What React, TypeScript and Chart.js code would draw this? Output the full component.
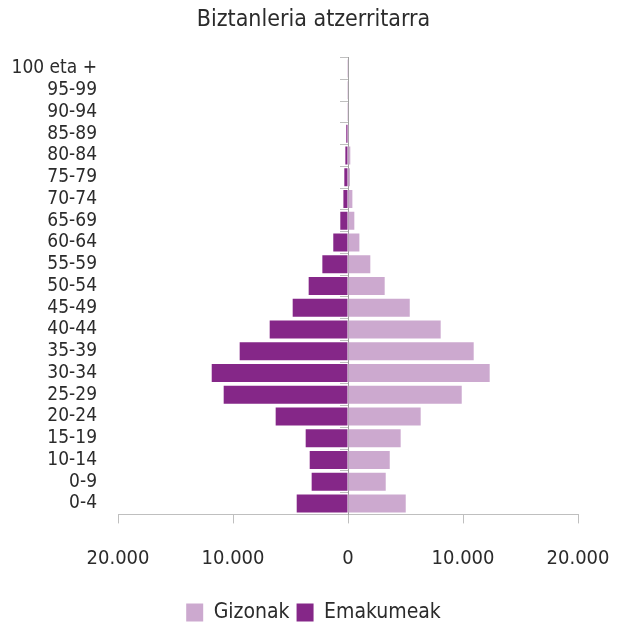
import React, { useEffect, useRef } from "react";
import { Chart, registerables } from "chart.js";

Chart.register(...registerables);

const TITLE = "Biztanleria atzerritarra";
const AGE_GROUPS = [
  "100 eta +", "95-99", "90-94", "85-89", "80-84", "75-79", "70-74", "65-69",
  "60-64", "55-59", "50-54", "45-49", "40-44", "35-39", "30-34", "25-29",
  "20-24", "15-19", "10-14", "0-9", "0-4",
];
const GIZONAK = [40, 40, 40, 20, 200, 170, 380, 550, 990, 1940, 3190, 5370, 8060, 10930, 12320, 9890, 6320, 4580, 3630, 3280, 5020];
const EMAKUMEAK = [30, 30, 30, 150, 230, 320, 400, 670, 1280, 2230, 3420, 4810, 6810, 9420, 11850, 10810, 6290, 3680, 3330, 3160, 4460];
const X_TICKS = [-20000, -10000, 0, 10000, 20000];
const SERIES_NAMES = ["Gizonak", "Emakumeak"];

const FONT = "'DejaVu Sans Condensed', 'Liberation Sans Narrow', 'Roboto', sans-serif";
const TEXT = "#2b2b2b";

const fmt = (v: number) => String(Math.abs(v)).replace(/\B(?=(\d{3})+(?!\d))/g, ".");

export default function App() {
  const ref = useRef<HTMLCanvasElement | null>(null);
  useEffect(() => {
    if (!ref.current) return;
    Chart.defaults.font.family = FONT;
    const chart = new Chart(ref.current, {
      type: "bar",
      data: {
        labels: AGE_GROUPS,
        datasets: [
          {
            label: SERIES_NAMES[0],
            data: GIZONAK,
            backgroundColor: "#cca9cf",
            yAxisID: "y",
            barPercentage: 0.83,
            categoryPercentage: 1,
          },
          {
            label: SERIES_NAMES[1],
            data: EMAKUMEAK.map((v) => -v),
            backgroundColor: "#852788",
            yAxisID: "y",
            barPercentage: 0.83,
            categoryPercentage: 1,
          },
        ],
      },
      options: {
        indexAxis: "y",
        animation: false,
        responsive: true,
        maintainAspectRatio: false,
        layout: { padding: 0 },
        plugins: {
          title: {
            display: true,
            text: TITLE,
            color: TEXT,
            font: { size: 23, weight: "normal", family: FONT, lineHeight: 1.2 },
            padding: { top: 6, bottom: 24 },
          },
          legend: {
            position: "bottom",
            labels: {
              color: TEXT,
              boxWidth: 17,
              boxHeight: 18,
              padding: 7,
              font: { size: 21, family: FONT },
            },
          },
          tooltip: { enabled: false },
        },
        scales: {
          x: {
            type: "linear",
            stacked: true,
            min: -20000,
            max: 20000,
            afterBuildTicks: (s: any) => {
              s.ticks = X_TICKS.map((v) => ({ value: v }));
            },
            grid: { drawOnChartArea: false, drawTicks: true, tickLength: 9, color: "#bfbfbf" },
            border: { display: true, color: "#bfbfbf" },
            ticks: {
              color: TEXT,
              padding: 15,
              font: { size: 20, family: FONT, lineHeight: 2.08 },
              maxRotation: 0,
              callback: (v: any) => fmt(Number(v)),
            },
          },
          y: {
            type: "category",
            position: "left",
            stacked: true,
            offset: true,
            afterFit: (s: any) => {
              s.width = 118;
            },
            grid: { display: false, drawTicks: false },
            border: { display: false },
            ticks: { color: TEXT, padding: 21, autoSkip: false, font: { size: 19, family: FONT } },
          },
          y2: {
            type: "category",
            position: { x: 0 },
            offset: true,
            z: 1,
            grid: { offset: true, drawOnChartArea: false, drawTicks: true, tickLength: 8, color: "#bfbfbf" },
            border: { display: true, color: "#a0a0a0" },
            ticks: { display: false, autoSkip: false },
          },
          yRightSpace: {
            type: "category",
            position: "right",
            offset: true,
            afterFit: (s: any) => {
              s.width = 49;
            },
            grid: { display: false, drawTicks: false },
            border: { display: false },
            ticks: { display: false },
          },
        },
      } as any,
    });
    return () => chart.destroy();
  }, []);
  return (
    <div style={{ position: "fixed", left: 0, top: 0, width: 627, height: 633 }}>
      <canvas ref={ref} />
    </div>
  );
}
